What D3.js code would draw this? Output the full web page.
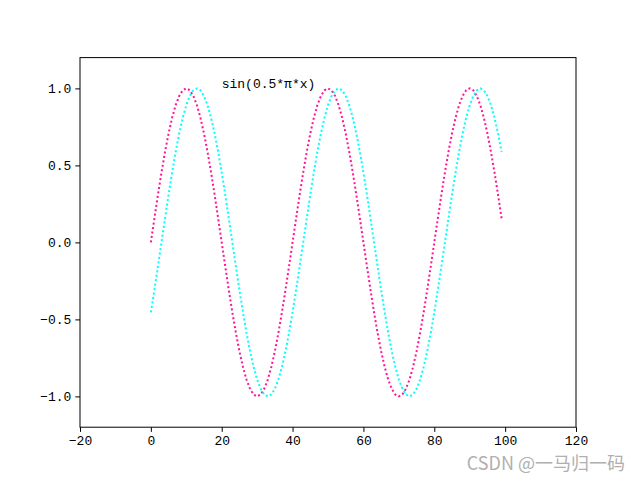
<!DOCTYPE html>
<html><head><meta charset="utf-8">
<script src="https://cdn.jsdelivr.net/npm/d3@7"></script>
<style>body{margin:0;background:#fff}svg{display:block}</style>
</head><body>
<svg id="c" width="640" height="480"></svg>
<script>
const xTicks = [-20, 0, 20, 40, 60, 80, 100, 120];
const yTicks = [-1.0, -0.5, 0.0, 0.5, 1.0];
const xValues = d3.range(0, 100);
const pinkValues = [
 0, .156, .309, .454, .588, .707, .809, .891, .951, .988, 1, .988, .951, .891, .809, .707, .588, .454, .309, .156,
 0, -.156, -.309, -.454, -.588, -.707, -.809, -.891, -.951, -.988, -1, -.988, -.951, -.891, -.809, -.707, -.588, -.454, -.309, -.156,
 0, .156, .309, .454, .588, .707, .809, .891, .951, .988, 1, .988, .951, .891, .809, .707, .588, .454, .309, .156,
 0, -.156, -.309, -.454, -.588, -.707, -.809, -.891, -.951, -.988, -1, -.988, -.951, -.891, -.809, -.707, -.588, -.454, -.309, -.156,
 0, .156, .309, .454, .588, .707, .809, .891, .951, .988, 1, .988, .951, .891, .809, .707, .588, .454, .309, .156
];
const cyanValues = [
 -.454, -.309, -.156,
 0, .156, .309, .454, .588, .707, .809, .891, .951, .988, 1, .988, .951, .891, .809, .707, .588, .454, .309, .156,
 0, -.156, -.309, -.454, -.588, -.707, -.809, -.891, -.951, -.988, -1, -.988, -.951, -.891, -.809, -.707, -.588, -.454, -.309, -.156,
 0, .156, .309, .454, .588, .707, .809, .891, .951, .988, 1, .988, .951, .891, .809, .707, .588, .454, .309, .156,
 0, -.156, -.309, -.454, -.588, -.707, -.809, -.891, -.951, -.988, -1, -.988, -.951, -.891, -.809, -.707, -.588, -.454, -.309, -.156,
 0, .156, .309, .454, .588, .707, .809, .891, .951, .988, 1, .988, .951, .891, .809, .707, .588
];
const annotation = {x: 20, y: 1.0, text: "sin(0.5*\u03c0*x)"};
const watermark = "CSDN @一马归一码";

const L = 80, R = 576, T = 57.6, B = 427.2;
const svg = d3.select("#c");
const x = d3.scaleLinear().domain([-20, 120]).range([L, R]);
const y = d3.scaleLinear().domain([-1.2, 1.2]).range([B, T]);
const font = "'Liberation Mono', 'DejaVu Sans Mono', monospace";

const line = d3.line().x((d, i) => x(xValues[i])).y(d => y(d));
svg.append("path").datum(pinkValues).attr("d", line)
  .attr("fill", "none").attr("stroke", "#ff1493").attr("stroke-width", 2)
  .attr("stroke-dasharray", "2,2.5");
svg.append("path").datum(cyanValues).attr("d", line)
  .attr("fill", "none").attr("stroke", "#00ffff").attr("stroke-width", 2)
  .attr("stroke-dasharray", "2,2.5");

const xAxis = d3.axisBottom(x).tickValues(xTicks).tickSize(4.7).tickPadding(4).tickFormat(d => d < 0 ? "\u2212" + Math.abs(d) : d);
const gx = svg.append("g").attr("transform", `translate(0,${B})`).call(xAxis);
const yAxis = d3.axisLeft(y).tickValues(yTicks).tickSize(4.7).tickPadding(4).tickFormat(d => (d < 0 ? "\u2212" : "") + Math.abs(d).toFixed(1));
const gy = svg.append("g").attr("transform", `translate(${L},0)`).call(yAxis);
[gx, gy].forEach(g => {
  g.select(".domain").remove();
  g.selectAll("line").attr("stroke", "#000").attr("stroke-width", 1);
  g.selectAll("text").attr("font-family", font).attr("font-size", 13).attr("fill", "#000");
});
svg.append("rect").attr("x", L).attr("y", T).attr("width", R - L).attr("height", B - T)
  .attr("fill", "none").attr("stroke", "#000").attr("stroke-width", 1);

svg.append("text").attr("x", x(annotation.x)).attr("y", y(annotation.y))
  .attr("font-family", font).attr("font-size", 13).attr("fill", "#000").text(annotation.text);

svg.append("text").attr("x", 625).attr("y", 470).attr("text-anchor", "end")
  .attr("font-family", "'Noto Sans CJK SC', sans-serif").attr("font-size", 18)
  .attr("fill", "#b0b0b0").text(watermark);
</script>
</body></html>
